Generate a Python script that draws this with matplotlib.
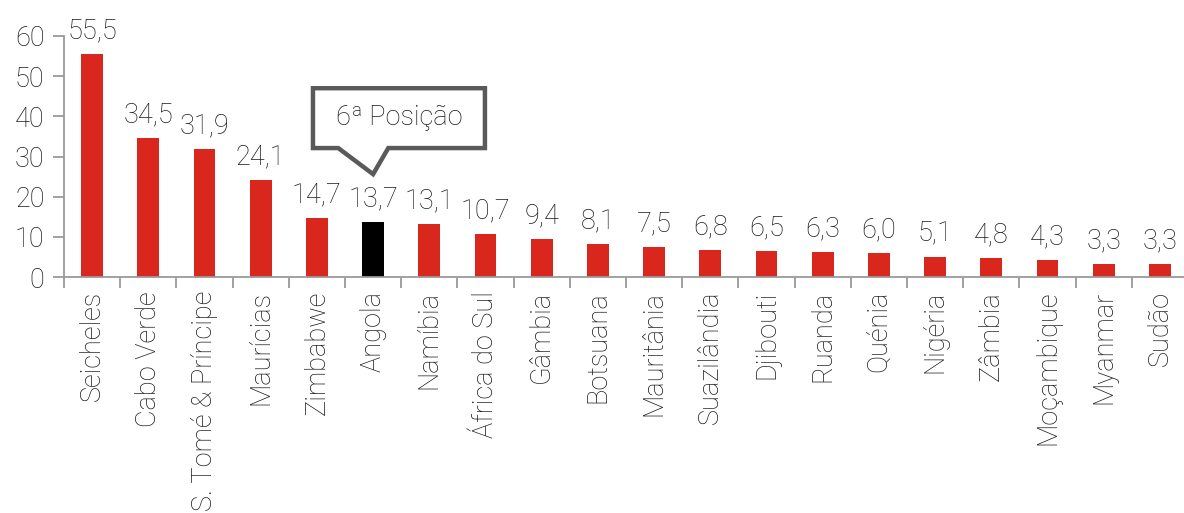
import matplotlib.pyplot as plt
from matplotlib.patches import Polygon
import numpy as np

plt.rcParams['font.family'] = ['Roboto', 'DejaVu Sans']
plt.rcParams['font.weight'] = 'light'

paises = ["Seicheles", "Cabo Verde", "S. Tomé & Príncipe", "Maurícias", "Zimbabwe",
          "Angola", "Namíbia", "África do Sul", "Gâmbia", "Botsuana", "Mauritânia",
          "Suazilândia", "Djibouti", "Ruanda", "Quénia", "Nigéria", "Zâmbia",
          "Moçambique", "Myanmar", "Sudão"]
valores = [55.5, 34.5, 31.9, 24.1, 14.7, 13.7, 13.1, 10.7, 9.4, 8.1, 7.5,
           6.8, 6.5, 6.3, 6.0, 5.1, 4.8, 4.3, 3.3, 3.3]
destaque = "Angola"
nota = "6ª Posição"

vermelho = "#D9271D"
cinza = "#9A9A9A"
texto = "#1A1A1A"
tam = 19.5

fig = plt.figure(figsize=(11.84, 5.13), dpi=100)
ax = fig.add_axes([64 / 1184, 236 / 513, 1124 / 1184, 241 / 513])

x = np.arange(len(paises))
cores = ["black" if p == destaque else vermelho for p in paises]
ax.bar(x, valores, width=0.39, color=cores)

for xi, v in zip(x, valores):
    ax.annotate(f"{v:.1f}".replace(".", ","), (xi, v), xytext=(0, 7),
                textcoords="offset points", ha="center", va="bottom",
                fontsize=tam, color=texto)

ax.set_xlim(-0.5, len(paises) - 0.5)
ax.set_ylim(0, 60)
ax.set_yticks(range(0, 61, 10))
ax.set_xticks(x)
ax.set_xticklabels(paises, rotation=90, fontsize=tam, color=texto)
ax.set_xticks(np.arange(-0.5, len(paises), 1), minor=True)
ax.tick_params(axis="x", which="major", length=0, pad=10)
ax.tick_params(axis="x", which="minor", length=8, width=1.3, color=cinza)
ax.tick_params(axis="y", length=8, width=1.3, color=cinza, labelsize=tam, pad=6,
               labelcolor=texto)

for lado in ["top", "right"]:
    ax.spines[lado].set_visible(False)
for lado in ["left", "bottom"]:
    ax.spines[lado].set_color(cinza)
    ax.spines[lado].set_linewidth(1.3)

# balão de destaque sobre a barra de Angola
i = paises.index(destaque)
balao = [(i - 1.07, 47.0), (i + 1.99, 47.0), (i + 1.99, 32.1), (i + 0.27, 32.1),
         (i, 25.6), (i - 0.62, 32.1), (i - 1.07, 32.1)]
ax.add_patch(Polygon(balao, closed=True, facecolor="white", edgecolor="#5A5A5A",
                     linewidth=3.2, joinstyle="miter", clip_on=False, zorder=5))
ax.text(i + 0.46, 39.6, nota, ha="center", va="center", fontsize=tam,
        color=texto, zorder=6)

fig.savefig("out.png", dpi=100)
